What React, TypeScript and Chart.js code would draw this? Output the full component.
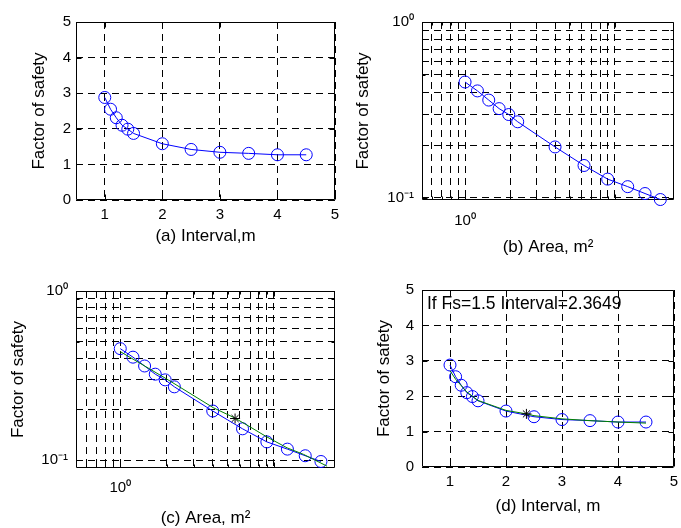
import React, { useEffect, useRef } from 'react';
import { Chart, registerables } from 'chart.js';

Chart.register(...registerables);

// ---------- data ----------
const intervals = [1, 1.1, 1.2, 1.3, 1.4, 1.5, 2, 2.5, 3, 3.5, 4, 4.5];
const factorOfSafety = [2.88, 2.55, 2.31, 2.1, 1.99, 1.87, 1.58, 1.42, 1.34, 1.31, 1.27, 1.27];

const areas = [1, 1.21, 1.44, 1.69, 1.96, 2.25, 4, 6.25, 9, 12.25, 16, 20.25];
const areaFactor = [0.456, 0.406, 0.36, 0.322, 0.298, 0.271, 0.195, 0.153, 0.128, 0.116, 0.106, 0.098];

const fitAreas = [1, 2.0, 4.03, 5.52, 7.0, 9.0, 12.2, 15.6, 22.2];
const fitAreaFactor = [0.438, 0.302, 0.204, 0.178, 0.157, 0.137, 0.118, 0.108, 0.092];

const fitIntervals = [1, 1.1, 1.3, 1.5, 2, 2.3649, 2.5, 3, 3.5, 4, 4.5];
const fitFactor = [2.72, 2.48, 2.12, 1.88, 1.6, 1.5, 1.45, 1.36, 1.31, 1.27, 1.24];

const designInterval = [2.3649];
const designFs = [1.5];
const designArea = [5.59];
const designAreaFactor = [0.176];

const linearXTicks = [1, 2, 3, 4, 5];
const linearYTicks = [0, 1, 2, 3, 4, 5];
const logXTicks = [0.6, 0.7, 0.8, 0.9, 1, 2, 3, 4, 5, 6, 7, 8, 9, 10];
const logYTicks = [0.1, 0.2, 0.3, 0.4, 0.5, 0.6, 0.7, 0.8, 0.9, 1];
const logXLabels: Record<string, string> = { '1': '10\u2070' };
const logYLabels: Record<string, string> = { '1': '10\u2070', '0.1': '10\u207B\u00B9' };

const yTitle = 'Factor of safety';
const xTitles = ['(a) Interval,m', '(b) Area, m\u00B2', '(c) Area, m\u00B2', '(d) Interval, m'];
const annotationText = 'If Fs=1.5 Interval=2.3649';

// ---------- styling ----------
const FAMILY = "'Liberation Sans', Arial, Helvetica, sans-serif";
const BLUE = '#0000ff';
const GREEN = '#008000';
const DASH = [7, 5];

const pts = (xs: number[], ys: number[]) => xs.map((x, i) => ({ x, y: ys[i] }));

const blueSet = (xs: number[], ys: number[]) => ({
  data: pts(xs, ys),
  showLine: true,
  borderColor: BLUE,
  borderWidth: 1,
  pointRadius: 6,
  pointBorderWidth: 1,
  pointBorderColor: BLUE,
  pointBackgroundColor: 'rgba(0,0,0,0)',
  pointStyle: 'circle',
  clip: false,
  order: 3,
});
const greenSet = (xs: number[], ys: number[]) => ({
  data: pts(xs, ys),
  showLine: true,
  borderColor: GREEN,
  borderWidth: 1,
  pointRadius: 0,
  order: 2,
});
const starSet = (xs: number[], ys: number[]) => ({
  data: pts(xs, ys),
  showLine: false,
  pointStyle: 'star',
  pointRadius: 5,
  pointBorderWidth: 1,
  pointBorderColor: '#000',
  pointBackgroundColor: '#000',
  order: 1,
});

const framePlugin = {
  id: 'matlabFrame',
  beforeDatasetsDraw(chart: any, _a: any, opts: any) {
    const { ctx, chartArea: a, scales } = chart;
    ctx.save();
    ctx.setLineDash([]);
    ctx.strokeStyle = '#000';
    ctx.lineWidth = 1;
    const L = a.left + 0.5, R = a.right - 0.5, T = a.top + 0.5, B = a.bottom - 0.5;
    ctx.beginPath();
    ctx.rect(L, T, R - L, B - T);
    ctx.stroke();
    ctx.beginPath();
    for (const t of scales.x.ticks) {
      const len = opts.majorX ? (opts.majorX.includes(t.value) ? 5 : 3) : 5;
      const px = Math.round(scales.x.getPixelForValue(t.value)) + 0.5;
      ctx.moveTo(px, B); ctx.lineTo(px, B - len);
      ctx.moveTo(px, T); ctx.lineTo(px, T + len);
    }
    for (const t of scales.y.ticks) {
      const len = opts.majorY ? (opts.majorY.includes(t.value) ? 5 : 3) : 5;
      const py = Math.round(scales.y.getPixelForValue(t.value)) + 0.5;
      ctx.moveTo(L, py); ctx.lineTo(L + len, py);
      ctx.moveTo(R, py); ctx.lineTo(R - len, py);
    }
    ctx.stroke();
    ctx.restore();
  },
  afterDraw(chart: any, _a: any, opts: any) {
    if (!opts.text) return;
    const { ctx, chartArea: a } = chart;
    ctx.save();
    ctx.font = `17.5px ${FAMILY}`;
    ctx.fillStyle = '#000';
    ctx.textBaseline = 'middle';
    ctx.textAlign = 'left';
    ctx.fillText(opts.text, a.left + 5, a.top + 14);
    ctx.restore();
  },
};

type Spec = {
  left: number; top: number; width: number; height: number;
  padTop: number; padRight: number; yAxisWidth: number; xAxisHeight: number;
  log: boolean; xMin: number; xMax: number; yMin: number; yMax: number;
  xTitle: string; xTitlePad: number; yTitlePad: number; xTickPad: number; yTickPad: number;
  datasets: any[]; text?: string;
};

function makeConfig(s: Spec): any {
  const xTicks = s.log ? logXTicks : linearXTicks;
  const yTicks = s.log ? logYTicks : linearYTicks;
  const tickFont = { family: FAMILY, size: 15 };
  const titleFont = { family: FAMILY, size: 17 };
  return {
    type: 'scatter',
    data: { datasets: s.datasets },
    options: {
      animation: false,
      responsive: false,
      events: [],
      layout: { padding: { left: 0, top: s.padTop, right: s.padRight, bottom: 0 } },
      plugins: {
        legend: { display: false },
        tooltip: { enabled: false },
        matlabFrame: s.log ? { majorX: [1, 10], majorY: [0.1, 1], text: s.text } : { text: s.text },
      },
      scales: {
        x: {
          type: s.log ? 'logarithmic' : 'linear',
          min: s.xMin, max: s.xMax, bounds: 'data',
          afterBuildTicks: (sc: any) => { sc.ticks = xTicks.map((v) => ({ value: v })); },
          afterFit: (sc: any) => { sc.height = s.xAxisHeight; sc.paddingLeft = 0; sc.paddingRight = 0; },
          ticks: {
            autoSkip: false, maxRotation: 0, minRotation: 0, padding: s.xTickPad,
            color: '#000', font: tickFont,
            callback: (v: number) => (s.log ? (logXLabels[String(v)] ?? '') : String(v)),
          },
          grid: { color: '#000', lineWidth: 1, drawTicks: false, borderDash: DASH },
          border: { display: false, dash: DASH },
          title: { display: true, text: s.xTitle, color: '#000', font: titleFont, padding: { top: 0, bottom: s.xTitlePad } },
        },
        y: {
          type: s.log ? 'logarithmic' : 'linear',
          min: s.yMin, max: s.yMax, bounds: 'data',
          afterBuildTicks: (sc: any) => { sc.ticks = yTicks.map((v) => ({ value: v })); },
          afterFit: (sc: any) => { sc.width = s.yAxisWidth; sc.paddingTop = 0; sc.paddingBottom = 0; },
          ticks: {
            autoSkip: false, padding: s.yTickPad, color: '#000', font: tickFont,
            callback: (v: number) => (s.log ? (logYLabels[String(v)] ?? '') : String(v)),
          },
          grid: { color: '#000', lineWidth: 1, drawTicks: false, borderDash: DASH },
          border: { display: false, dash: DASH },
          title: { display: true, text: yTitle, color: '#000', font: titleFont, padding: { top: s.yTitlePad, bottom: 0 } },
        },
      },
    },
    plugins: [framePlugin],
  };
}

function Panel({ spec }: { spec: Spec }) {
  const ref = useRef<HTMLCanvasElement | null>(null);
  useEffect(() => {
    if (!ref.current) return;
    const chart = new Chart(ref.current, makeConfig(spec));
    return () => chart.destroy();
  }, [spec]);
  return (
    <canvas
      ref={ref}
      width={spec.width}
      height={spec.height}
      style={{ position: 'absolute', left: spec.left, top: spec.top, width: spec.width, height: spec.height }}
    />
  );
}

const specs: Spec[] = [
  {
    left: 0, top: 0, width: 345, height: 264, padTop: 22, padRight: 10, yAxisWidth: 76, xAxisHeight: 64,
    log: false, xMin: 0.5, xMax: 5, yMin: 0, yMax: 5,
    xTitle: xTitles[0], xTitlePad: 17, yTitlePad: 29, xTickPad: 5.5, yTickPad: 5,
    datasets: [blueSet(intervals, factorOfSafety)],
  },
  {
    left: 340, top: 0, width: 341, height: 264, padTop: 22, padRight: 1, yAxisWidth: 82, xAxisHeight: 64,
    log: true, xMin: 0.515, xMax: 25, yMin: 0.0974, yMax: 1,
    xTitle: xTitles[1], xTitlePad: 6, yTitlePad: 13, xTickPad: 12, yTickPad: 8,
    datasets: [blueSet(areas, areaFactor)],
  },
  {
    left: 0, top: 264, width: 345, height: 264, padTop: 27, padRight: 10, yAxisWidth: 76, xAxisHeight: 60,
    log: true, xMin: 0.515, xMax: 25, yMin: 0.0897, yMax: 1,
    xTitle: xTitles[2], xTitlePad: -1, yTitlePad: 8, xTickPad: 11, yTickPad: 8,
    datasets: [blueSet(areas, areaFactor), greenSet(fitAreas, fitAreaFactor), starSet(designArea, designAreaFactor)],
  },
  {
    left: 340, top: 264, width: 341, height: 264, padTop: 26, padRight: 1, yAxisWidth: 82, xAxisHeight: 61,
    log: false, xMin: 0.5, xMax: 5, yMin: 0, yMax: 5,
    xTitle: xTitles[3], xTitlePad: 11, yTitlePad: 34, xTickPad: 6, yTickPad: 8,
    datasets: [blueSet(intervals, factorOfSafety), greenSet(fitIntervals, fitFactor), starSet(designInterval, designFs)],
    text: annotationText,
  },
];

export default function App() {
  return (
    <div style={{ position: 'fixed', left: 0, top: 0, width: 681, height: 528, background: '#fff', overflow: 'hidden' }}>
      {specs.map((s, i) => (
        <Panel key={i} spec={s} />
      ))}
    </div>
  );
}
